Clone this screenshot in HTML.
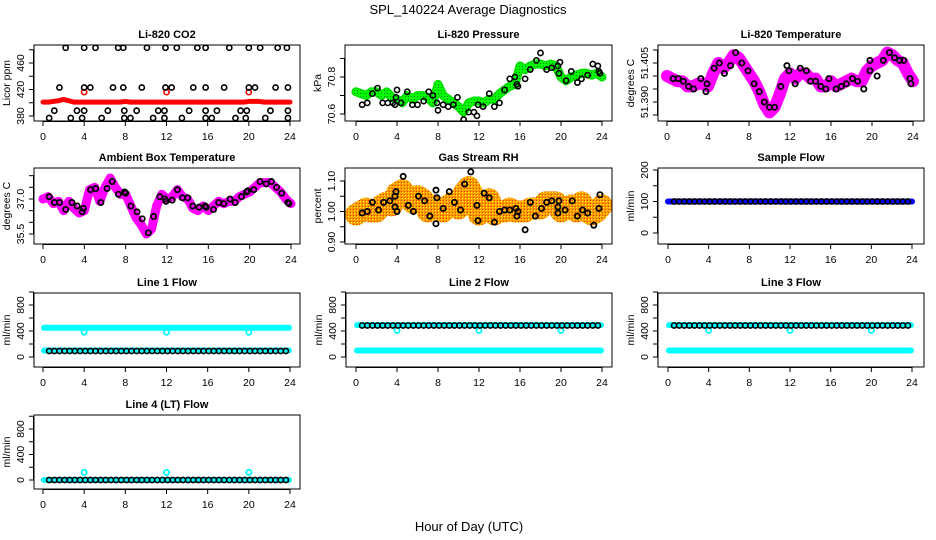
<!DOCTYPE html>
<html><head><meta charset="utf-8">
<style>
html,body{margin:0;padding:0;background:#fff;}
svg{display:block;font-family:"Liberation Sans",sans-serif;}
</style></head>
<body>
<svg id="chart" width="936" height="540" viewBox="0 0 936 540" xmlns="http://www.w3.org/2000/svg">
<defs>
<pattern id="checker" width="3" height="3" patternUnits="userSpaceOnUse">
<rect width="3" height="3" fill="#ff9a00"/><rect width="1" height="1" fill="#ffff00"/><rect x="2" y="2" width="1" height="1" fill="#e04000"/>
</pattern>
<pattern id="dots" width="3" height="3" patternUnits="userSpaceOnUse">
<rect width="3" height="3" fill="#00ff00"/><rect width="1" height="1" fill="#007700"/>
</pattern>
</defs>
<text x="468" y="14" font-size="13" text-anchor="middle">SPL_140224  Average Diagnostics</text>
<text x="469" y="531" font-size="13" text-anchor="middle">Hour of Day (UTC)</text>
</svg>
<script>
// ---- data ----
const halfHours = [0,0.5,1,1.5,2,2.5,3,3.5,4,4.5,5,5.5,6,6.5,7,7.5,8,8.5,9,9.5,10,10.5,11,11.5,12,12.5,13,13.5,14,14.5,15,15.5,16,16.5,17,17.5,18,18.5,19,19.5,20,20.5,21,21.5,22,22.5,23,23.5,24];
const xTicks = [0,4,8,12,16,20,24];

const co2Red = [401,401,402,403,405,403,401,401,401,401,401,401,401,401,401,401,402,401,401,401,401,401,401,401,401,401,401,401,401,401,401,401,401,401,401,401,401,401,401,401,402,402,402,401,401,401,401,401,401];
const co2RedOutHours = [4,12,20];
const co2RedOutValues = [416,416,416];
const co2BlackHours = [2.2,4,5.1,7.3,7.8,10.1,11.9,13,15,15.8,18.1,20,21.1,22.8,23.7, 1.6,4,4.6,6.8,7.8,9.6,11.9,12.5,14.6,15.8,17.6,20,20.6,22.6,23.8, 1.1,3.3,4,6.3,7.9,9.1,11.2,11.8,14.2,15.8,16.9,19.2,19.8,22.1,23.8, 0.6,2.7,3.8,5.7,7.9,8.5,10.7,11.8,13.5,15.8,16.4,18.7,19.7,21.6,23.8];
const co2BlackValues = [483,483,483,483,483,483,483,483,483,483,483,483,483,483,483, 423,423,423,423,423,423,423,423,423,423,423,423,423,423,423, 388,388,388,388,388,388,388,388,388,388,388,388,388,388,388, 377,377,377,377,377,377,377,377,377,377,377,377,377,377,377];

const presGreen = [70.72,70.71,70.70,70.72,70.72,70.70,70.72,70.69,70.68,70.66,70.70,70.68,70.70,70.70,70.69,70.66,70.76,70.70,70.68,70.66,70.64,70.61,70.66,70.67,70.67,70.66,70.68,70.68,70.71,70.73,70.75,70.76,70.86,70.84,70.86,70.87,70.87,70.86,70.87,70.86,70.80,70.78,70.80,70.81,70.82,70.82,70.81,70.82,70.80];
const presBlackHours = [0.6,1.1,1.6,2.1,2.6,3.1,3.6,3.8,3.9,4,4.4,5,5.5,6,6.6,7.1,7.5,7.9,8,8.5,9,9.5,9.9,10.5,11,11.5,11.8,11.9,12.4,13,13.5,14,14.5,15,15.5,15.7,15.8,16.5,17,17.6,18,18.6,19.1,19.7,19.8,19.9,20.5,21,21.6,22,22.6,23.1,23.6,23.7,23.8];
const presBlackValues = [70.65,70.66,70.71,70.74,70.66,70.66,70.66,70.65,70.69,70.73,70.66,70.72,70.65,70.65,70.67,70.72,70.70,70.66,70.62,70.65,70.64,70.65,70.69,70.57,70.61,70.61,70.59,70.65,70.64,70.71,70.64,70.66,70.73,70.79,70.80,70.76,70.75,70.79,70.84,70.89,70.93,70.84,70.85,70.86,70.82,70.88,70.78,70.83,70.77,70.79,70.81,70.87,70.86,70.83,70.82];

const tempMagenta = [51.400,51.399,51.398,51.398,51.396,51.396,51.397,51.397,51.396,51.401,51.405,51.403,51.405,51.408,51.407,51.404,51.401,51.398,51.394,51.389,51.386,51.388,51.393,51.399,51.401,51.399,51.401,51.401,51.399,51.399,51.396,51.396,51.398,51.396,51.397,51.398,51.399,51.398,51.398,51.402,51.404,51.405,51.406,51.409,51.408,51.406,51.405,51.401,51.398];
const tempBlackHours = [0.6,1.1,1.6,2.1,2.6,3.3,3.8,3.9,4.6,5.1,5.6,6.2,6.7,7.3,7.9,8.5,9.0,9.5,10,10.5,11.1,11.7,11.9,12.5,13,13.6,14,14.5,15,15.5,15.8,16.5,17,17.5,18.1,18.6,19.2,19.8,19.8,20.5,21.1,21.7,22.2,22.7,23.1,23.7,23.8];
const tempBlackValues = [51.399,51.399,51.398,51.396,51.395,51.399,51.394,51.397,51.403,51.405,51.401,51.404,51.409,51.405,51.402,51.397,51.394,51.390,51.388,51.388,51.396,51.404,51.402,51.397,51.403,51.402,51.398,51.398,51.396,51.395,51.399,51.395,51.396,51.397,51.399,51.398,51.395,51.406,51.402,51.400,51.406,51.409,51.407,51.406,51.406,51.399,51.397];

const ambMagenta = [37.0,37.1,36.8,36.9,36.5,36.9,36.6,36.4,36.5,37.4,37.5,36.9,37.5,37.9,37.5,37.2,37.2,36.7,36.2,35.9,35.5,35.7,36.7,37.2,37.0,37.1,37.4,37.1,37.0,36.6,36.5,36.7,36.5,36.7,36.9,36.8,36.9,36.9,37.1,37.2,37.3,37.5,37.7,37.7,37.7,37.5,37.3,37.0,36.8];
const ambBlackHours = [0.6,1.1,1.6,2.2,2.8,3.3,3.8,3.9,4.6,5.1,5.6,6.2,6.7,7.3,7.9,8,8.5,9.1,9.6,10.2,10.7,11.3,11.8,11.9,12.5,13,13.5,14,14.5,15.1,15.7,15.8,16.5,17,17.5,18.1,18.6,19.2,19.7,19.8,20.4,21,21.6,22.1,22.6,23.1,23.7,23.8];
const ambBlackValues = [37.1,36.85,36.85,36.55,36.85,36.7,36.45,36.6,37.4,37.45,36.85,37.45,37.75,37.2,37.3,37.25,36.7,36.45,36.15,35.55,36.25,37.1,37.0,36.9,36.95,37.4,37.05,37.05,36.7,36.65,36.7,36.65,36.55,36.85,36.8,37.0,36.85,37.1,37.3,37.35,37.4,37.75,37.65,37.75,37.5,37.25,36.85,36.8];

const rhOrange = [0.99,1.00,1.01,1.00,1.00,1.02,1.03,1.02,1.06,1.07,1.05,1.03,1.05,1.04,1.00,1.02,1.01,1.00,1.02,1.03,1.01,1.06,1.08,1.05,0.99,1.02,1.04,0.99,1.00,1.00,1.01,1.00,1.00,1.00,1.01,1.01,1.01,1.03,1.03,1.03,1.00,1.01,1.02,1.00,1.03,1.00,0.99,1.00,1.02];
const rhBlackHours = [0.6,1.1,1.6,2.2,2.7,3.3,3.8,3.9,3.8,4,4.6,5.1,5.6,6.1,6.7,7.2,7.8,7.8,7.9,8.5,9.1,9.6,10.2,10.6,11.2,11.8,11.9,12.5,13,13.5,14,14.5,15,15.6,15.7,15.8,16.5,17,17.5,18.1,18.6,19.1,19.7,19.8,19.7,20.4,21.1,21.6,22.1,22.6,23.2,23.7,23.8];
const rhBlackValues = [0.995,1.00,1.03,1.005,1.03,1.035,1.05,1.065,1.015,1.00,1.115,1.02,1.00,1.05,1.035,0.985,0.96,1.07,1.045,1.01,1.065,1.03,1.005,1.09,1.13,1.02,0.97,1.06,1.045,0.965,1.00,1.005,1.005,1.01,0.985,1.00,0.94,1.03,0.985,1.01,1.03,1.035,0.995,1.035,1.015,1.005,1.035,0.985,1.005,0.995,0.955,1.01,1.055];

const sampleBlue = 100;
const sampleBlack = 100;
const line1CyanHigh = 450, line1CyanLow = 100, line1Black = 92;
const line2CyanHigh = 490, line2CyanLow = 100, line2Black = 485;
const line3CyanHigh = 490, line3CyanLow = 100, line3Black = 485;
const line4Cyan = 0, line4Black = 0;
const outlierHours = [4,12,20];
const line1Outliers = [380,380,380];
const line2Outliers = [410,410,410];
const line3Outliers = [410,410,410];
const line4Outliers = [120,120,120];

// ---- drawing ----
const svg = document.getElementById('chart');
const NS = 'http://www.w3.org/2000/svg';
function mk(tag, attrs, parent){
  const e = document.createElementNS(NS, tag);
  for (const k in attrs) e.setAttribute(k, attrs[k]);
  (parent||svg).appendChild(e);
  return e;
}
function panel(cfg){
  const g = mk('g', {});
  
  
  const [bx1,by1,bx2,by2] = cfg.box;
  const sx = h => cfg.x0 + h*(cfg.x24-cfg.x0)/24;
  const [va,ya,vb,yb] = cfg.cal;
  const sy = v => ya + (v-va)*(yb-ya)/(vb-va);
  const clip = 'clip-'+cfg.name;
  const cp = mk('clipPath', {id: clip}, g);
  mk('rect', {x:bx1, y:by1, width:bx2-bx1, height:by2-by1}, cp);
  const plot = mk('g', {'clip-path':'url(#'+clip+')'}, g);
  cfg.draw(plot, sx, sy);
  const box = mk('rect', {x:bx1, y:by1, width:bx2-bx1, height:by2-by1, fill:'none', stroke:'#000', 'stroke-width':1}, g);
  
  
  const t = mk('text', {x:(bx1+bx2)/2, y:by1-7, 'font-size':11, 'font-weight':'bold', 'text-anchor':'middle'}, g);
  t.textContent = cfg.title;
  
  
  mk('line', {x1:sx(0), x2:sx(24), y1:by2+0.5, y2:by2+0.5, stroke:'#000'}, g);
  xTicks.forEach(h => {
    mk('line', {x1:sx(h), x2:sx(h), y1:by2, y2:by2+5, stroke:'#000'}, g);
    const l = mk('text', {x:sx(h), y:by2+19, 'font-size':10.5, 'text-anchor':'middle'}, g);
    l.textContent = h;
    
    
  });
  const yt = cfg.yTicks;
  mk('line', {x1:bx1-0.5, x2:bx1-0.5, y1:sy(yt[0]), y2:sy(yt[yt.length-1]), stroke:'#000'}, g);
  yt.forEach(v => mk('line', {x1:bx1-5, x2:bx1, y1:sy(v), y2:sy(v), stroke:'#000'}, g));
  cfg.yLabels.forEach(v => {
    const y = sy(v), x = bx1-10;
    const l = mk('text', {x:x, y:y, 'font-size':10.5, 'text-anchor':'middle', transform:'rotate(-90 '+x+' '+y+')'}, g);
    l.textContent = cfg.fmt ? cfg.fmt(v) : v;
    
    
  });
  const yc = (by1+by2)/2, xc = bx1-24;
  const yl = mk('text', {x:xc, y:yc, 'font-size':10.5, 'text-anchor':'middle', transform:'rotate(-90 '+xc+' '+yc+')'}, g);
  yl.textContent = cfg.ylab;
  
  
}
function circles(parent, hs, vs, sx, sy, color, r, w, name){
  hs.forEach((h,i) => {
    const c = mk('circle', {cx:sx(h), cy:sy(vs[i]), r:r, fill:'none', stroke:color, 'stroke-width':w}, parent);
    
    
  });
}
function band(parent, hs, vs, sx, sy, color, w, name){
  const p = mk('polyline', {points: hs.map((h,i)=>sx(h)+','+sy(vs[i])).join(' '), fill:'none', stroke:color, 'stroke-width':w, 'stroke-linejoin':'round', 'stroke-linecap':'round'}, parent);
  
  
}
function blackRun(h0){ const a=[]; for(let h=h0; h<=23.95; h+=0.5) a.push(h); return a; }
const bH = blackRun(0.6);
const fill = (n,v) => Array(n).fill(v);

const flowTicks = [0,200,400,600,800,1000];
const flowLabels = [0,400,800];

panel({name:'co2-panel', title:'Li-820 CO2', ylab:'Licor ppm', box:[34,45,300,121], x0:43, x24:290, cal:[380,116,460,63],
  yTicks:[380,400,420,440,460,480], yLabels:[380,420,460],
  draw:(g,sx,sy)=>{ band(g, halfHours, co2Red, sx, sy, '#ff0000', 5, 'co2-red-series');
    circles(g, co2RedOutHours, co2RedOutValues, sx, sy, '#ff0000', 2.6, 1.6, 'co2-red-outlier');
    circles(g, co2BlackHours, co2BlackValues, sx, sy, '#000', 2.6, 1.6, 'co2-black-point'); }});
panel({name:'pressure-panel', title:'Li-820 Pressure', ylab:'kPa', box:[345,45,612,121], x0:356, x24:602, cal:[70.6,114,70.8,77],
  yTicks:[70.6,70.7,70.8,70.9], yLabels:[70.6,70.8], fmt:v=>v.toFixed(1),
  draw:(g,sx,sy)=>{ band(g, halfHours, presGreen, sx, sy, '#00e000', 9, 'pressure-green-series');
    band(g, halfHours, presGreen, sx, sy, 'url(#dots)', 6, 'pressure-green-texture');
    circles(g, presBlackHours, presBlackValues, sx, sy, '#000', 2.6, 1.6, 'pressure-black-point'); }});
panel({name:'temperature-panel', title:'Li-820 Temperature', ylab:'degrees C', box:[658,45,924,121], x0:667, x24:913, cal:[51.390,102,51.405,63],
  yTicks:[51.385,51.390,51.395,51.400,51.405,51.410], yLabels:[51.390,51.405], fmt:v=>v.toFixed(3),
  draw:(g,sx,sy)=>{ band(g, halfHours, tempMagenta, sx, sy, '#ff00ff', 12, 'temperature-magenta-series');
    circles(g, tempBlackHours, tempBlackValues, sx, sy, '#000', 2.6, 1.8, 'temperature-black-point'); }});
panel({name:'ambient-panel', title:'Ambient Box Temperature', ylab:'degrees C', box:[34,168,300,244], x0:43, x24:291, cal:[35.5,234,37,199],
  yTicks:[35.5,36,36.5,37,37.5,38], yLabels:[35.5,37.0], fmt:v=>v.toFixed(1),
  draw:(g,sx,sy)=>{ band(g, halfHours, ambMagenta, sx, sy, '#ff00ff', 9, 'ambient-magenta-series');
    circles(g, ambBlackHours, ambBlackValues, sx, sy, '#000', 2.6, 1.8, 'ambient-black-point'); }});
panel({name:'rh-panel', title:'Gas Stream RH', ylab:'percent', box:[345,168,612,244], x0:356, x24:602, cal:[0.9,242,1.1,181],
  yTicks:[0.90,0.95,1.00,1.05,1.10], yLabels:[0.90,1.00,1.10], fmt:v=>v.toFixed(2),
  draw:(g,sx,sy)=>{ band(g, halfHours, rhOrange, sx, sy, 'url(#checker)', 22, 'rh-orange-series');
    circles(g, rhBlackHours, rhBlackValues, sx, sy, '#000', 2.6, 1.8, 'rh-black-point'); }});
panel({name:'sample-flow-panel', title:'Sample Flow', ylab:'ml/min', box:[658,168,924,244], x0:668, x24:912, cal:[0,233,200,170],
  yTicks:[0,50,100,150,200], yLabels:[0,100,200],
  draw:(g,sx,sy)=>{ band(g, [0,24], [sampleBlue,sampleBlue], sx, sy, '#0000ff', 6, 'sample-blue-series');
    circles(g, bH, fill(bH.length, sampleBlack), sx, sy, '#000', 2.6, 1.6, 'sample-black-point'); }});
function flowPanel(name, title, box, x0, x24, cal, hi, lo, blk, outs){
  panel({name, title, ylab:'ml/min', box, x0, x24, cal, yTicks:flowTicks, yLabels:flowLabels,
    draw:(g,sx,sy)=>{
      if (hi !== null) band(g, [0.1,23.9], [hi,hi], sx, sy, '#00ffff', 6, 'cyan-high-series');
      band(g, [0.1,23.9], [lo,lo], sx, sy, '#00ffff', 6, 'cyan-low-series');
      circles(g, outlierHours, outs, sx, sy, '#00ffff', 2.6, 1.8, 'cyan-outlier');
      circles(g, bH, fill(bH.length, blk), sx, sy, '#000', 2.6, 1.6, 'black-flow-point');
    }});
}
flowPanel('line1-flow-panel','Line 1 Flow',[34,293,300,367],43,290,[0,357,400,331],line1CyanHigh,line1CyanLow,line1Black,line1Outliers);
flowPanel('line2-flow-panel','Line 2 Flow',[346,293,612,367],356,602,[0,357,400,331],line2CyanHigh,line2CyanLow,line2Black,line2Outliers);
flowPanel('line3-flow-panel','Line 3 Flow',[658,293,924,367],668,912,[0,357,400,331],line3CyanHigh,line3CyanLow,line3Black,line3Outliers);
flowPanel('line4-flow-panel','Line 4 (LT) Flow',[34,415,300,489],43,290,[0,480,800,429],null,line4Cyan,line4Black,line4Outliers);
</script>
</body></html>
